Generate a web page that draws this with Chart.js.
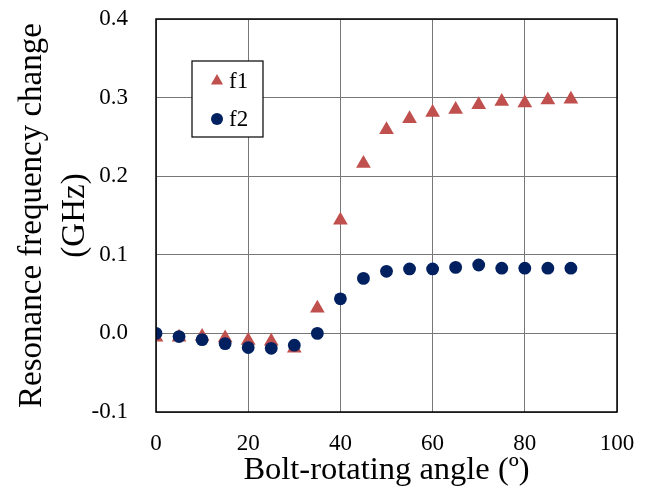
<!DOCTYPE html>
<html>
<head>
<meta charset="utf-8">
<script src="https://cdn.jsdelivr.net/npm/chart.js@4.4.0/dist/chart.umd.min.js"></script>
<style>
  html, body { margin: 0; padding: 0; background: #fff; }
  #wrap { width: 657px; height: 499px; }
</style>
</head>
<body>
<div id="wrap"><canvas id="chart" width="657" height="499"></canvas></div>
<script>
// bolt angle (deg) and frequency shift (GHz)
const angles = [0, 5, 10, 15, 20, 25, 30, 35, 40, 45, 50, 55, 60, 65, 70, 75, 80, 85, 90];
const f1 = [-0.005, -0.005, -0.004, -0.006, -0.009, -0.010, -0.019, 0.032, 0.144, 0.216, 0.259, 0.273, 0.281, 0.285, 0.291, 0.295, 0.293, 0.297, 0.298];
const f2 = [0.000, -0.004, -0.008, -0.013, -0.018, -0.019, -0.015, 0.000, 0.044, 0.070, 0.079, 0.082, 0.082, 0.084, 0.087, 0.083, 0.083, 0.083, 0.083];
const xTicks = [0, 20, 40, 60, 80, 100];
const yTicks = [-0.1, 0.0, 0.1, 0.2, 0.3, 0.4];

const RED = '#C0504D';
const NAVY = '#002060';

Chart.defaults.font.family = "'Liberation Serif', 'Times New Roman', serif";
Chart.defaults.color = '#000';

const toPoints = (ys) => angles.map((a, i) => ({ x: a, y: ys[i] }));

// frame round the plot area
const framePlugin = {
  id: 'frame',
  afterDraw(chart) {
    const { ctx, chartArea: a } = chart;
    ctx.save();
    ctx.strokeStyle = '#000';
    ctx.lineWidth = 1.5;
    ctx.strokeRect(a.left, a.top, a.right - a.left, a.bottom - a.top);
    ctx.restore();
  }
};

// boxed legend inside the plot, top left
const boxLegend = {
  id: 'boxLegend',
  afterDraw(chart) {
    const ctx = chart.ctx;
    const x0 = 192, y0 = 61, w = 71, h = 76;
    ctx.save();
    ctx.fillStyle = '#fff';
    ctx.fillRect(x0, y0, w, h);
    ctx.strokeStyle = '#000';
    ctx.lineWidth = 1.2;
    ctx.strokeRect(x0, y0, w, h);
    ctx.font = "23px 'Liberation Serif', serif";
    ctx.textBaseline = 'middle';
    chart.data.datasets.forEach((ds, i) => {
      const cx = 217, cy = 81 + i * 38;
      ctx.fillStyle = ds.backgroundColor;
      ctx.beginPath();
      if (ds.pointStyle === 'triangle') {
        const r = 7;
        ctx.moveTo(cx, cy - r);
        ctx.lineTo(cx + r * 0.866, cy + r * 0.5);
        ctx.lineTo(cx - r * 0.866, cy + r * 0.5);
        ctx.closePath();
      } else {
        ctx.arc(cx, cy, 6, 0, Math.PI * 2);
      }
      ctx.fill();
      ctx.fillStyle = '#000';
      ctx.fillText(ds.label, 229, cy + 1);
    });
    ctx.restore();
  }
};

new Chart(document.getElementById('chart'), {
  type: 'scatter',
  data: {
    datasets: [
      {
        label: 'f1',
        data: toPoints(f1),
        pointStyle: 'triangle',
        pointRadius: 8.5,
        backgroundColor: RED,
        borderColor: RED,
        borderWidth: 0,
        order: 1
      },
      {
        label: 'f2',
        data: toPoints(f2),
        pointStyle: 'circle',
        pointRadius: 6.4,
        backgroundColor: NAVY,
        borderColor: NAVY,
        borderWidth: 0,
        order: 0
      }
    ]
  },
  options: {
    responsive: false,
    animation: false,
    layout: { padding: { top: 19, right: 40, left: 0, bottom: 0 } },
    plugins: { legend: { display: false }, tooltip: { enabled: false } },
    scales: {
      x: {
        type: 'linear',
        min: 0,
        max: 100,
        afterBuildTicks: (s) => { s.ticks = xTicks.map(v => ({ value: v })); },
        afterFit: (s) => { s.height = 87; },
        ticks: { font: { size: 23 }, padding: 18, maxRotation: 0 },
        grid: { color: '#777', lineWidth: 1, drawTicks: false },
        border: { display: false },
        title: {
          display: true,
          text: 'Bolt-rotating angle (º)',
          font: { size: 32.5 },
          padding: { top: 0, bottom: 9 }
        }
      },
      y: {
        min: -0.1,
        max: 0.4,
        afterBuildTicks: (s) => { s.ticks = yTicks.map(v => ({ value: v })); },
        afterFit: (s) => { s.width = 156; },
        ticks: { font: { size: 23 }, padding: 0, callback: (v) => v.toFixed(1) },
        grid: { color: '#777', lineWidth: 1, drawTicks: true, tickLength: 28, tickColor: 'rgba(0,0,0,0)' },
        border: { display: false },
        title: {
          display: true,
          text: ['Resonance frequency change', '(GHz)'],
          font: { size: 33, lineHeight: 1.3 },
          padding: { top: 10.5, bottom: 0 }
        }
      }
    }
  },
  plugins: [framePlugin, boxLegend]
});
</script>
</body>
</html>
